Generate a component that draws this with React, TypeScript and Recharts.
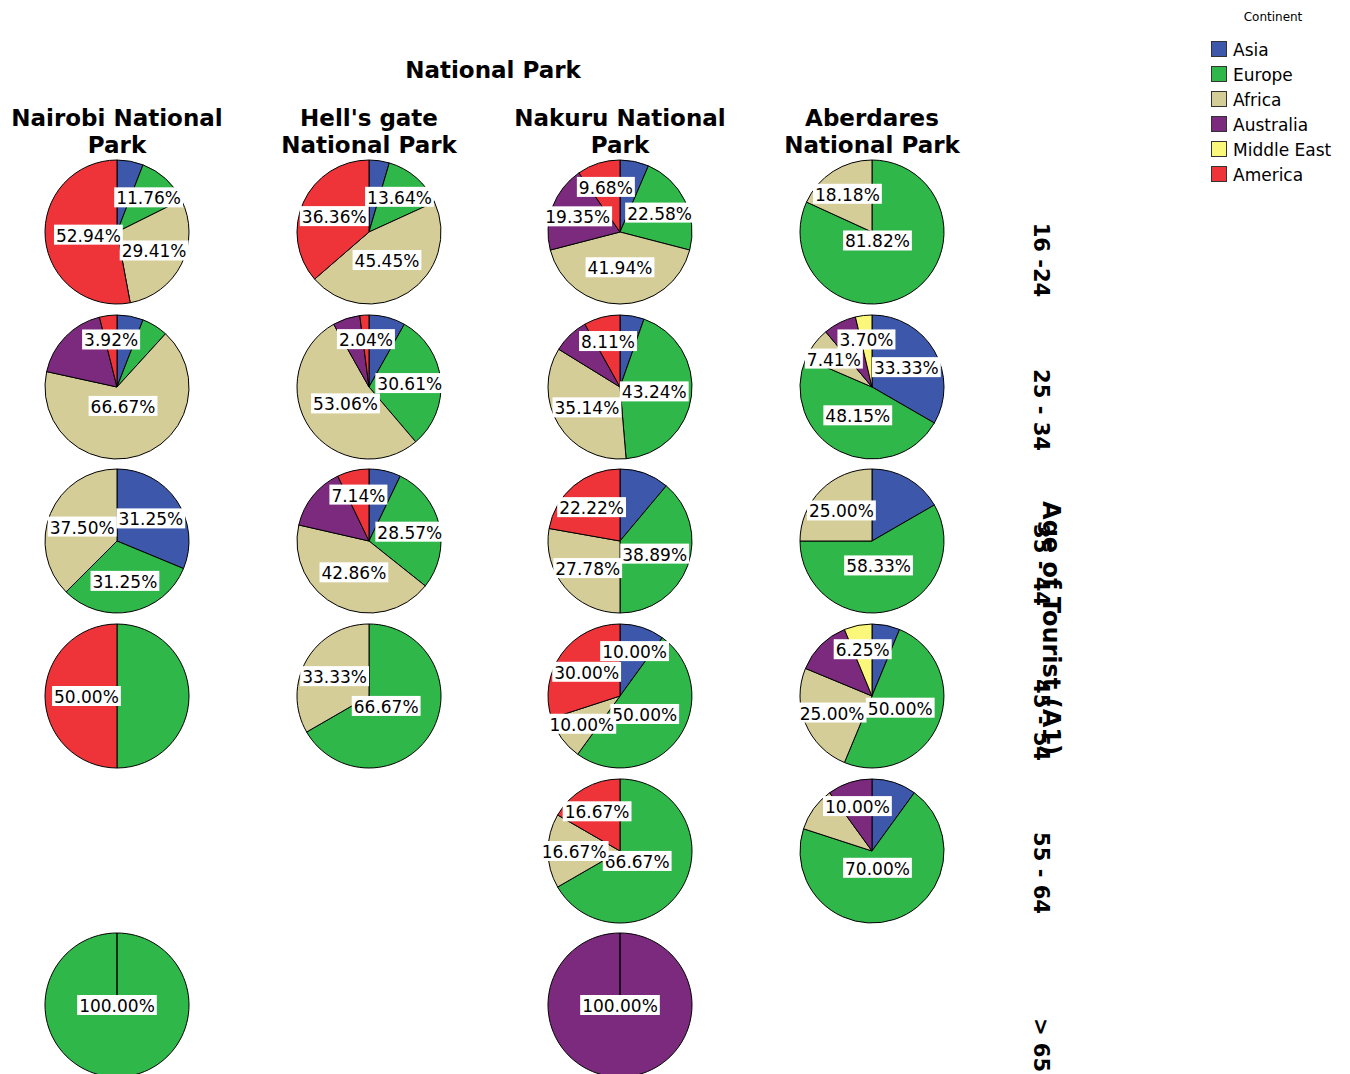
import { PieChart, Pie, Cell } from 'recharts'

const continents = ['Asia', 'Europe', 'Africa', 'Australia', 'Middle East', 'America']
const continentColors = ['#3d57ab', '#2fb74a', '#d4cd98', '#7b2a7e', '#fbf77b', '#ee3439']
const parkTitles = [
  ['Nairobi National', 'Park'],
  ["Hell's gate", 'National Park'],
  ['Nakuru National', 'Park'],
  ['Aberdares', 'National Park'],
]
const ageGroups = ['16 -24', '25 - 34', '35 - 44', '45 - 54', '55 - 64', '> 65']

// tourist counts per age group, continent order: Asia, Europe, Africa, Australia, Middle East, America
const nairobiCounts = [[1, 2, 5, 0, 0, 9], [3, 3, 34, 9, 0, 2], [5, 5, 6, 0, 0, 0], [0, 1, 0, 0, 0, 1], [], [0, 1, 0, 0, 0, 0]]
const hellsGateCounts = [[1, 3, 10, 0, 0, 8], [4, 15, 26, 3, 0, 1], [1, 4, 6, 2, 0, 1], [0, 2, 1, 0, 0, 0], [], []]
const nakuruCounts = [[2, 7, 13, 6, 0, 3], [2, 16, 13, 3, 0, 3], [2, 7, 5, 0, 0, 4], [1, 5, 1, 0, 0, 3], [0, 4, 1, 0, 0, 1], [0, 0, 0, 1, 0, 0]]
const aberdaresCounts = [[0, 9, 2, 0, 0, 0], [9, 13, 2, 2, 1, 0], [2, 7, 3, 0, 0, 0], [1, 8, 4, 2, 1, 0], [1, 7, 1, 1, 0, 0], []]

// which continents get a percentage label in each pie
const nairobiLabels = [[1, 2, 5], [2, 5], [0, 1, 2], [5], [], [1]]
const hellsGateLabels = [[1, 2, 5], [1, 2, 5], [1, 2, 5], [1, 2], [], []]
const nakuruLabels = [[1, 2, 3, 5], [1, 2, 5], [1, 2, 5], [0, 1, 2, 5], [1, 2, 5], [3]]
const aberdaresLabels = [[1, 2], [0, 1, 2, 4], [1, 2], [1, 2, 4], [1, 3], []]

const parkCounts = [nairobiCounts, hellsGateCounts, nakuruCounts, aberdaresCounts]
const parkLabels = [nairobiLabels, hellsGateLabels, nakuruLabels, aberdaresLabels]

const colX = [117, 369, 620, 872]
const rowY = [232, 387, 541, 696, 851, 1005]
const RADIUS = 72
const FONT = 'DejaVu Sans, Verdana, sans-serif'

const charW: Record<string, number> = { '.': 0.318, '%': 0.95 }
const textWidth = (s: string, size: number) =>
  s.split('').reduce((w, c) => w + (charW[c] ?? 0.636), 0) * size

const renderLabel = (props: any) => {
  const { cx, cy, midAngle, outerRadius, percent } = props
  const show = props.show ?? props.payload?.show
  if (!show) return null
  const a = percent * Math.PI
  const d = percent >= 0.999 ? 0 : (2 * outerRadius * Math.sin(a)) / (3 * a)
  const rad = (-midAngle * Math.PI) / 180
  const x = cx + d * Math.cos(rad)
  const y = cy + d * Math.sin(rad)
  const text = `${(percent * 100).toFixed(2)}%`
  const w = textWidth(text, 17)
  return (
    <g>
      <rect x={x - w / 2 - 2} y={y - 10} width={w + 4} height={20} fill="#fff" />
      <text x={x} y={y + 1} textAnchor="middle" dominantBaseline="central" fontSize={17} fontFamily={FONT} fill="#000">
        {text}
      </text>
    </g>
  )
}

const abs = (x: number, y: number, extra: any = {}) => ({
  position: 'absolute' as const,
  left: x,
  top: y,
  transform: 'translate(-50%, -50%)',
  whiteSpace: 'nowrap' as const,
  fontFamily: FONT,
  color: '#000',
  ...extra,
})

export default function App() {
  const cells: { key: string; x: number; y: number; data: any[] }[] = []
  parkCounts.forEach((rows, p) => {
    rows.forEach((counts, r) => {
      const data = counts
        .map((v, i) => ({ name: continents[i], value: v, ci: i, show: parkLabels[p][r].includes(i) }))
        .filter((d) => d.value > 0)
      if (data.length) cells.push({ key: `${p}-${r}`, x: colX[p], y: rowY[r], data })
    })
  })

  return (
    <div style={{ position: 'absolute', left: 0, top: 0, width: 1350, height: 1074, background: '#fff', overflow: 'hidden' }}>
      <PieChart
        width={1350}
        height={1074}
        margin={{ top: 0, right: 0, bottom: 0, left: 0 }}
        style={{ position: 'absolute', left: 0, top: 0 }}
      >
        {cells.map((c) => (
          <Pie
            key={c.key}
            data={c.data}
            dataKey="value"
            nameKey="name"
            cx={c.x}
            cy={c.y}
            outerRadius={RADIUS}
            startAngle={90}
            endAngle={-270}
            stroke="#000"
            strokeWidth={1}
            label={renderLabel}
            labelLine={false}
            isAnimationActive={false}
          >
            {c.data.map((d) => (
              <Cell key={d.name} fill={continentColors[d.ci]} />
            ))}
          </Pie>
        ))}
      </PieChart>

      <div style={abs(493, 70, { fontSize: 23, fontWeight: 'bold' })}>National Park</div>
      {parkTitles.map((lines, i) =>
        lines.map((t, j) => (
          <div key={`${i}-${j}`} style={abs(colX[i], 118 + j * 27, { fontSize: 23, fontWeight: 'bold' })}>
            {t}
          </div>
        ))
      )}

      {ageGroups.map((g, i) => (
        <div key={g} style={abs(1041, [260, 410, 565, 720, 873, 1045][i], { fontSize: 21, fontWeight: 'bold', transform: 'translate(-50%, -50%) rotate(90deg)' })}>
          {g}
        </div>
      ))}
      <div style={abs(1051, 628, { fontSize: 24, fontWeight: 'bold', transform: 'translate(-50%, -50%) rotate(90deg)' })}>
        Age of Tourist (A1)
      </div>

      <div style={abs(1273, 17, { fontSize: 12 })}>Continent</div>
      {continents.map((c, i) => (
        <div key={c}>
          <div
            style={{
              position: 'absolute',
              left: 1211,
              top: 41 + i * 25,
              width: 16,
              height: 16,
              boxSizing: 'border-box',
              border: '1px solid #333',
              background: continentColors[i],
            }}
          />
          <div style={{ position: 'absolute', left: 1233, top: 50 + i * 25, transform: 'translateY(-50%)', fontSize: 17, fontFamily: FONT, whiteSpace: 'nowrap' }}>
            {c}
          </div>
        </div>
      ))}
    </div>
  )
}
